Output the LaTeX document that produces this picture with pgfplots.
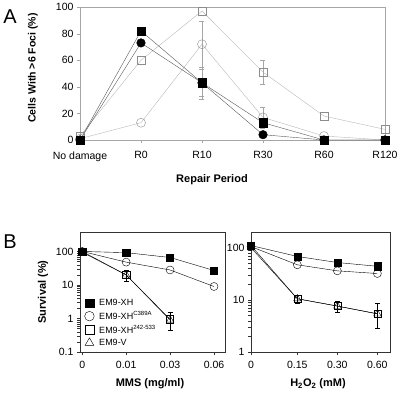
\documentclass[border=0pt]{standalone}
\usepackage{pgfplots}
\pgfplotsset{compat=1.18}
\usepackage{fontspec}
\setmainfont{Liberation Sans}
\definecolor{darkline}{gray}{0.35}
\definecolor{lightline}{gray}{0.72}
\definecolor{openedge}{gray}{0.55}
\begin{document}
\begin{tikzpicture}
\path[use as bounding box] (0pt,0pt) rectangle (400pt,-397pt);
\pgfplotsset{
  common/.style={
    scale only axis, clip=false,
    /pgf/number format/assume math mode=true,
    tick label style={font=\fontsize{10.5}{12}\selectfont},
    tick align=outside, major tick length=3pt,
    xtick pos=bottom, ytick pos=left,
    minor tick num=0,
  },
}
% ---------------- Panel A ----------------
\begin{axis}[common,
  at={(80pt,-140pt)}, anchor=south west,
  width=305pt, height=133pt,
  xmin=0, xmax=5, ymin=0, ymax=100,
  xtick={0,1,2,3,4,5},
  xticklabels={No damage,R0,R10,R30,R60,R120},
  xticklabel style={yshift=-5pt},
  ytick={0,20,40,60,80,100},
  axis line style={gray!70},
  tick style={gray!70},
  error bars/error bar style={gray!70, line width=0.5pt},
  error bars/error mark options={rotate=90, mark size=2.5pt, gray!70},
]
\addplot[lightline, mark=square, mark size=4.2pt, mark options={draw=openedge, fill=white},
  error bars/.cd, y dir=both, y explicit]
  coordinates {(0,3) (1,60) (2,97) (3,51) +- (0,9) (4,18) (5,8)};
\addplot[lightline, mark=o, mark size=4.5pt, mark options={draw=openedge, fill=white},
  error bars/.cd, y dir=both, y explicit]
  coordinates {(0,1) (1,13) (2,72) +- (0,17) (3,17) +- (0,8) (4,3) (5,0)};
\addplot[darkline, mark=*, mark size=4.3pt, mark options={draw=black, fill=black},
  error bars/.cd, y dir=both, y explicit]
  coordinates {(0,0) (1,73) (2,43) +- (0,10) (3,4) (4,0) (5,0)};
\addplot[darkline, mark=square*, mark size=4.2pt, mark options={draw=black, fill=black},
  error bars/.cd, y dir=both, y explicit]
  coordinates {(0,0) (1,82) (2,43) +- (0,12) (3,13) +- (0,3) (4,0) (5,0)};
\end{axis}
% ---------------- Panel B left ----------------
\begin{axis}[common,
  at={(80pt,-352pt)}, anchor=south west,
  width=145pt, height=120pt,
  ymode=log, ymin=0.1, ymax=380,
  xmin=-0.05, xmax=3.25,
  xtick={0,1,2,3}, xticklabels={0,0.01,0.03,0.06},
  xticklabel style={yshift=-3pt},
  ytick={0.1,1,10,100}, yticklabels={0.1,1,10,100},
  axis line style={black!80},
  tick style={black!80},
  error bars/error bar style={black, line width=0.5pt},
  error bars/error mark options={rotate=90, mark size=2.5pt, black},
  legend style={at={(0.01,0.465)}, anchor=north west, draw=none, fill=none,
    font=\fontsize{9}{10}\selectfont, row sep=2.2pt,
    nodes={inner xsep=1pt, inner ysep=1pt}},
  legend cell align=left,
  legend image code/.code={\draw[#1] plot coordinates {(0pt,0pt)};},
]
\addlegendimage{only marks, mark=square*, mark size=4.3pt, black}
\addlegendentry{\hspace{4pt}EM9-XH}
\addlegendimage{only marks, mark=o, mark size=4.8pt, black}
\addlegendentry{\hspace{4pt}EM9-XH\textsuperscript{C389A}}
\addlegendimage{only marks, mark=square, mark size=4.3pt, black}
\addlegendentry{\hspace{4pt}EM9-XH\textsuperscript{242-533}}
\addlegendimage{only marks, mark=triangle, mark size=5pt, black}
\addlegendentry{\hspace{4pt}EM9-V}
\addplot[black, forget plot, mark=square*, mark size=3.6pt]
  coordinates {(0,100) (1,92) (2,66) (3,27)};
\addplot[black, forget plot, mark=o, mark size=4pt, mark options={fill=white}]
  coordinates {(0,100) (1,48) (2,28) (3,9)};
\addplot[black, forget plot, mark=square, mark size=3.6pt, mark options={fill=white},
  error bars/.cd, y dir=both, y explicit]
  coordinates {(0,100) (1,20) +=(0,8) -=(0,7) (2,0.95) +=(0,0.55) -=(0,0.5)};
\addplot[black, forget plot, mark=triangle, mark size=4.3pt, mark options={fill=none}]
  coordinates {(0,95) (1,20) (2,0.9)};
\end{axis}
% ---------------- Panel B right ----------------
\begin{axis}[common,
  at={(251pt,-352pt)}, anchor=south west,
  width=139pt, height=120pt,
  ymode=log, ymin=1, ymax=200,
  xmin=0, xmax=3.3,
  xtick={0,1.1,2.05,3}, xticklabels={0,0.15,0.30,0.60},
  xticklabel style={yshift=-3pt},
  ytick={1,10,100}, yticklabels={1,10,100},
  axis line style={black!80},
  tick style={black!80},
  error bars/error bar style={black, line width=0.5pt},
  error bars/error mark options={rotate=90, mark size=2.5pt, black},
]
\addplot[black, mark=square*, mark size=3.6pt]
  coordinates {(0,110) (1.1,68) (2.05,52) (3,44)};
\addplot[black, mark=o, mark size=4pt, mark options={fill=white}]
  coordinates {(0,105) (1.1,47) (2.05,36) (3,32)};
\addplot[black, mark=square, mark size=3.6pt, mark options={fill=white},
  error bars/.cd, y dir=both, y explicit]
  coordinates {(0,110) (1.1,10.5) +=(0,2) -=(0,1.8) (2.05,7.6) +=(0,1.9) -=(0,1.8) (3,5.4) +=(0,3.1) -=(0,2.6)};
\addplot[black, mark=triangle, mark size=4.3pt, mark options={fill=none}]
  coordinates {(0,100) (1.1,10.5) (2.05,7.6) (3,5.4)};
\end{axis}
% ---------------- Labels ----------------
\node[font=\fontsize{20}{22}\selectfont] at (10pt,-16.5pt) {A};
\node[font=\fontsize{20}{22}\selectfont] at (10pt,-242pt) {B};
\node[rotate=90, font=\bfseries\fontsize{10.5}{12}\selectfont] at (33pt,-68pt) {Cells With >6 Foci (\%)};
\node[font=\bfseries\fontsize{11}{13}\selectfont] at (212pt,-180pt) {Repair Period};
\node[rotate=90, font=\bfseries\fontsize{11}{13}\selectfont] at (43pt,-292pt) {Survival (\%)};
\node[font=\bfseries\fontsize{11}{13}\selectfont] at (150pt,-384pt) {MMS (mg/ml)};
\node[font=\bfseries\fontsize{11}{13}\selectfont] at (318pt,-384pt) {H\textsubscript{2}O\textsubscript{2} (mM)};
\end{tikzpicture}
\end{document}
